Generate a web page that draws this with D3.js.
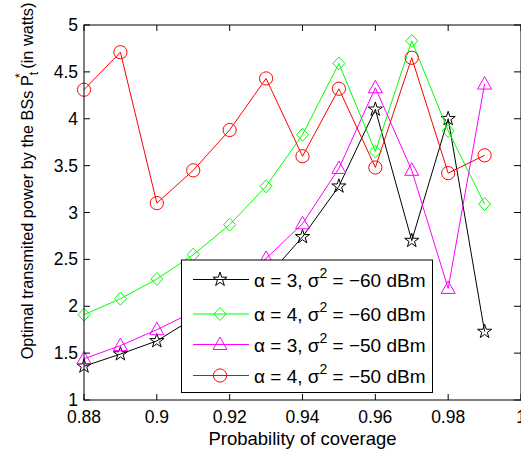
<!DOCTYPE html>
<html>
<head>
<meta charset="utf-8">
<script src="https://cdn.jsdelivr.net/npm/d3@7"></script>
<style>
  body { margin: 0; background: white; }
  text { font-family: 'Liberation Sans', Arial, sans-serif; }
</style>
</head>
<body>
<div id="chart"></div>
<script>
let xs = [0.88, 0.89, 0.90, 0.91, 0.92, 0.93, 0.94, 0.95, 0.96, 0.97, 0.98, 0.99]

let a3n60 = [1.36, 1.49, 1.63, 1.87, 2.06, 2.30, 2.74, 3.28, 4.10, 2.70, 4.00, 1.73]
let a4n60 = [1.91, 2.08, 2.29, 2.55, 2.87, 3.28, 3.83, 4.59, 3.65, 4.83, 3.87, 3.09]
let a3n50 = [1.44, 1.58, 1.75, 1.94, 2.20, 2.51, 2.88, 3.47, 4.33, 3.45, 2.19, 4.37]
let a4n50 = [4.31, 4.71, 3.10, 3.45, 3.88, 4.43, 3.60, 4.32, 3.48, 4.65, 3.42, 3.61]

let xTicks = [0.88, 0.9, 0.92, 0.94, 0.96, 0.98, 1]
let yTicks = [1, 1.5, 2, 2.5, 3, 3.5, 4, 4.5, 5]

let series = [
  { alpha: 3, sigma: '\u221260', values: a3n60, color: '#000000', marker: 'star' },
  { alpha: 4, sigma: '\u221260', values: a4n60, color: '#00ff00', marker: 'diamond' },
  { alpha: 3, sigma: '\u221250', values: a3n50, color: '#ff00ff', marker: 'triangle' },
  { alpha: 4, sigma: '\u221250', values: a4n50, color: '#ff0000', marker: 'circle' }
]

let W = 521
let H = 456
let margin = { left: 84, right: 521, top: 25, bottom: 400 }

let svg = d3
  .select('#chart')
  .append('svg')
  .attr('width', W)
  .attr('height', H)

let x = d3.scaleLinear().domain([0.88, 1]).range([margin.left, margin.right])
let y = d3.scaleLinear().domain([1, 5]).range([margin.bottom, margin.top])

// marker shapes
function markerPath(type) {
  if (type === 'star') return d3.symbol().type(d3.symbolStar).size(62)()
  if (type === 'diamond') return 'M0,-6.5L6,0L0,6.5L-6,0Z'
  if (type === 'triangle') return 'M0,-7.5L7,5L-7,5Z'
  return d3.symbol().type(d3.symbolCircle).size(Math.PI * 6.6 * 6.6)()
}

let line = d3
  .line()
  .x((d, i) => x(xs[i]))
  .y(d => y(d))

let plot = svg.append('g')

series.forEach(s => {
  plot
    .append('path')
    .datum(s.values)
    .attr('d', line)
    .attr('fill', 'none')
    .attr('stroke', s.color)
    .attr('stroke-width', 1)

  plot
    .selectAll('.m')
    .data(s.values)
    .enter()
    .append('path')
    .attr('d', markerPath(s.marker))
    .attr('transform', (d, i) => `translate(${x(xs[i])},${y(d)})`)
    .attr('fill', 'none')
    .attr('stroke', s.color)
    .attr('stroke-width', 1)
})

// axes box
svg
  .append('rect')
  .attr('x', margin.left)
  .attr('y', margin.top)
  .attr('width', margin.right - margin.left)
  .attr('height', margin.bottom - margin.top)
  .attr('fill', 'none')
  .attr('stroke', 'black')
  .attr('stroke-width', 1)

// inward ticks
let tickLen = 6
svg.selectAll('.xt-b')
  .data(xTicks)
  .enter()
  .append('line')
  .attr('x1', d => x(d)).attr('x2', d => x(d))
  .attr('y1', margin.bottom).attr('y2', margin.bottom - tickLen)
  .attr('stroke', 'black')

svg.selectAll('.xt-t')
  .data(xTicks)
  .enter()
  .append('line')
  .attr('x1', d => x(d)).attr('x2', d => x(d))
  .attr('y1', margin.top).attr('y2', margin.top + tickLen)
  .attr('stroke', 'black')

svg.selectAll('.yt-l')
  .data(yTicks)
  .enter()
  .append('line')
  .attr('x1', margin.left).attr('x2', margin.left + tickLen)
  .attr('y1', d => y(d)).attr('y2', d => y(d))
  .attr('stroke', 'black')

svg.selectAll('.yt-r')
  .data(yTicks)
  .enter()
  .append('line')
  .attr('x1', margin.right - tickLen - 1).attr('x2', margin.right)
  .attr('y1', d => y(d)).attr('y2', d => y(d))
  .attr('stroke', 'black')

// tick labels
svg.selectAll('.xl')
  .data(xTicks)
  .enter()
  .append('text')
  .attr('x', d => x(d))
  .attr('y', 423)
  .attr('text-anchor', 'middle')
  .attr('font-size', 17.5)
  .text(d => d3.format('')(d))

svg.selectAll('.yl')
  .data(yTicks)
  .enter()
  .append('text')
  .attr('x', 78)
  .attr('y', d => y(d) + 6)
  .attr('text-anchor', 'end')
  .attr('font-size', 17.5)
  .text(d => d3.format('')(d))

// axis titles
svg
  .append('text')
  .attr('x', (margin.left + margin.right) / 2)
  .attr('y', 445)
  .attr('text-anchor', 'middle')
  .attr('font-size', 18.5)
  .text('Probability of coverage')

let ylab = svg
  .append('text')
  .attr('transform', 'translate(33,181) rotate(-90)')
  .attr('text-anchor', 'middle')
  .attr('font-size', 16.3)

ylab.append('tspan').text('Optimal transmited power by the BSs P')
ylab.append('tspan').attr('dy', 5).attr('font-size', 12).text('t')
ylab.append('tspan').attr('dx', -6).attr('dy', -14).attr('font-size', 12).text('*')
ylab.append('tspan').attr('dy', 9).text(' (in watts)')

// legend
let lg = svg.append('g')
lg.append('rect')
  .attr('x', 181.5)
  .attr('y', 260)
  .attr('width', 251)
  .attr('height', 132.5)
  .attr('fill', 'white')
  .attr('stroke', 'black')
  .attr('stroke-width', 1)

let rows = [279.5, 314, 344.5, 375.5]
series.forEach((s, i) => {
  let ry = rows[i]
  lg.append('line')
    .attr('x1', 193).attr('x2', 249)
    .attr('y1', ry).attr('y2', ry)
    .attr('stroke', s.color)
    .attr('stroke-width', 1)
  lg.append('path')
    .attr('d', markerPath(s.marker))
    .attr('transform', `translate(220,${ry})`)
    .attr('fill', 'none')
    .attr('stroke', s.color)
  let t = lg.append('text')
    .attr('x', 254)
    .attr('y', ry + 7)
    .attr('font-size', 19)
  t.append('tspan').text(`\u03b1 = ${s.alpha}, \u03c3`)
  t.append('tspan').attr('dy', -9).attr('font-size', 14).text('2')
  t.append('tspan').attr('dy', 9).text(` = ${s.sigma} dBm`)
})
</script>
</body>
</html>
